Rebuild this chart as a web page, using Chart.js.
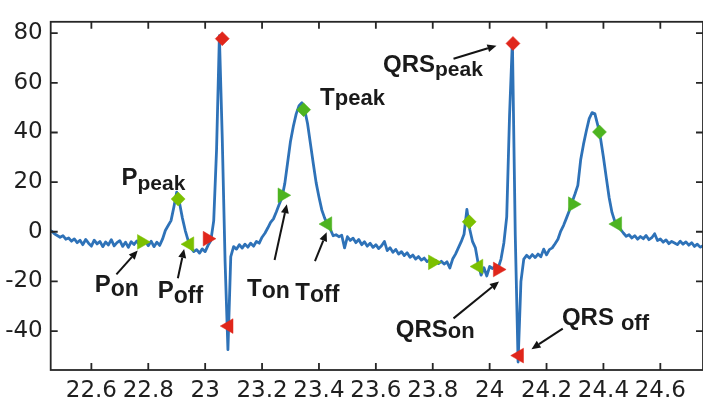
<!DOCTYPE html>
<html>
<head>
<meta charset="utf-8">
<script src="https://cdn.jsdelivr.net/npm/chart.js@4/dist/chart.umd.min.js"></script>
<style>
  html, body { margin: 0; padding: 0; background: #fff; overflow: hidden; width: 703px; height: 405px; }
  #wrap { position: absolute; left: 0; top: 0; width: 712px; height: 405px; }
</style>
</head>
<body>
<div id="wrap"><canvas id="ecg" width="712" height="405"></canvas></div>
<script>
// ECG record: one value per 10 ms, starting at 22.45 s
const SAMPLE_START = 22.45;
const SAMPLE_STEP = 0.01;
const ecgValues = [
  0.6, 0.3, -0.8, -1.5, -2.2, -1.6, -3.0, -2.5, -3.8, -2.9,        // 22.45
  -4.4, -3.4, -5.2, -3.1, -4.6, -5.8, -3.4, -4.9, -3.9, -6.0,      // 22.55
  -4.1, -5.3, -3.2, -5.7, -4.4, -3.6, -5.9, -4.2, -6.3, -4.0,      // 22.65
  -5.1, -3.7, -5.5, -4.3, -3.9, -5.6, -3.8, -6.0, -4.2, -5.5,      // 22.75
  -3.0, 0.5, 2.5, 4.5, 10.0, 16.0, 11.5, 5.5, 0.5, -3.5,           // 22.85
  -6.5, -8.0, -7.2, -8.6, -6.9, -8.0, -5.5, -3.5, 4.4, 33.0,       // 22.95
  79.0, 38.0, -12.0, -47.5, -10.0, -6.0, -7.0, -5.2, -6.6, -5.0,   // 23.05
  -6.2, -4.6, -5.8, -3.9, -4.6, -2.2, -0.6, 1.5, 3.8, 5.2,         // 23.15
  8.0, 11.0, 13.8, 19.5, 28.0, 36.5, 42.5, 47.5, 50.8, 52.0,       // 23.25
  49.0, 43.5, 35.5, 27.5, 19.8, 14.0, 8.8, 5.5, 3.0, 1.0,          // 23.35
  -1.6, -1.2, -2.0, -1.4, -6.5, -2.0, -3.5, -2.6, -4.4, -3.1,      // 23.45
  -5.2, -4.0, -5.8, -4.6, -6.3, -5.2, -6.8, -5.6, -3.9, -7.6,      // 23.55
  -6.4, -8.3, -7.1, -9.0, -8.0, -9.6, -8.5, -10.3, -9.4, -11.0,    // 23.65
  -10.0, -11.4, -10.6, -12.0, -11.2, -12.4, -11.6, -12.8, -11.9, -13.0, // 23.75
  -12.1, -14.6, -11.0, -9.0, -6.5, -4.0, -1.0, 9.0, 1.0, -4.0,     // 23.85
  -6.5, -13.0, -17.5, -14.5, -17.8, -14.0, -14.8, -13.8, -14.6, -11.0, // 23.95
  -4.5, 6.0, 47.0, 77.0, -1.0, -52.5, -20.0, -11.0, -9.5, -10.6,   // 24.05
  -9.2, -10.4, -9.0, -10.1, -7.0, -9.3, -7.2, -6.5, -4.8, -3.0,    // 24.15
  0.3, 2.6, 5.5, 8.5, 12.0, 15.2, 18.7, 29.0, 35.3, 40.7,          // 24.25
  45.6, 48.0, 47.5, 43.0, 37.5, 30.0, 21.8, 13.8, 7.8, 4.2,        // 24.35
  2.0, 1.0, -0.5, -1.8, -1.2, -2.5, -1.6, -3.0, -1.9, -2.8,        // 24.45
  -1.5, -3.2, -2.4, -0.8, -3.5, -2.9, -4.2, -3.3, -4.8, -3.9,      // 24.55
  -4.5, -5.2, -3.8, -5.0, -4.1, -5.4, -4.4, -5.9, -5.0, -6.2,      // 24.65
  -5.6                                                             // 24.75
];

// Fiducial points (time in s, amplitude)
const pPeakTime = [22.905, 23.928],  pPeakValue = [13.2, 4.0];
const pOnTime   = [22.777, 23.800],  pOnValue   = [-4.1, -12.3];
const pOffTime  = [22.945, 23.961],  pOffValue  = [-5.0, -14.0];
const tPeakTime = [23.346, 24.386],  tPeakValue = [49.2, 40.2];
const tOnTime   = [23.271, 24.292],  tOnValue   = [14.7, 11.1];
const tOffTime  = [23.430, 24.449],  tOffValue  = [3.1, 3.1];
const qrsPeakTime = [23.060, 24.082], qrsPeakValue = [77.8, 75.9];
const qrsOnTime   = [23.008, 24.028], qrsOnValue   = [-2.8, -15.2];
const qrsOffTime  = [23.083, 24.104], qrsOffValue  = [-38.0, -49.9];

// Axis ticks
const xTickValues = [22.6, 22.8, 23, 23.2, 23.4, 23.6, 23.8, 24, 24.2, 24.4, 24.6];
const xTickLabels = ['22.6', '22.8', '23', '23.2', '23.4', '23.6', '23.8', '24', '24.2', '24.4', '24.6'];
const yTickValues = [-40, -20, 0, 20, 40, 60, 80];
const yTickLabels = ['-40', '-20', '0', '20', '40', '60', '80'];

// Annotation texts, anchored in data units (left edge / baseline of the main text)
const notes = [
  { main: 'P',   sub: 'peak', t: 22.706, v: 18.75, drop: 5, subSize: 21 },
  { main: 'P',   sub: 'on',   t: 22.612, v: -24.2, drop: 4, subSize: 23 },
  { main: 'P',   sub: 'off',  t: 22.833, v: -26.8, drop: 5, subSize: 23 },
  { main: 'T',   sub: 'peak', t: 23.404, v: 51.1,  drop: 0, subSize: 22 },
  { main: 'T',   sub: 'on',   t: 23.147, v: -25.9, drop: 2, subSize: 23 },
  { main: 'T',   sub: 'off',  t: 23.317, v: -27.5, drop: 2, subSize: 23 },
  { main: 'QRS', sub: 'peak', t: 23.625, v: 64.5,  drop: 4, subSize: 21 },
  { main: 'QRS', sub: 'on',   t: 23.670, v: -42.6, drop: 1, subSize: 22 },
  { main: 'QRS', sub: 'off',  t: 24.254, v: -37.5, drop: 5, subSize: 22, gap: 7 }
];
// Arrows: tail -> head, in data units
const arrows = [
  [22.688, -17.2, 22.763, -7.5],
  [22.904, -18.7, 22.926, -6.9],
  [23.244, -11.4, 23.287, 11.1],
  [23.386, -11.8, 23.427, -0.2],
  [23.873, 69.7, 24.024, 75.0],
  [23.873, -34.9, 24.033, -20.0],
  [24.257, -39.0, 24.147, -47.3]
];

const P_GREEN = '#7bc000';
const T_GREEN = '#4db420';
const QRS_RED = '#e0261b';

const ecgPoints = ecgValues.map((v, i) => ({ x: +(SAMPLE_START + i * SAMPLE_STEP).toFixed(3), y: v }));
const pts = (ts, vs) => ts.map((t, i) => ({ x: t, y: vs[i] }));

function markerSet(ts, vs, color, style, rotation, radius) {
  return {
    type: 'scatter', data: pts(ts, vs), order: 0,
    pointStyle: style, rotation: rotation, pointRadius: radius,
    backgroundColor: color, borderColor: color, borderWidth: 0.5,
    pointHoverRadius: radius
  };
}

const frameAndNotes = {
  id: 'frameAndNotes',
  afterDatasetsDraw(chart) {
    const { ctx, scales: { x, y } } = chart;
    ctx.save();
    // arrows
    ctx.strokeStyle = '#141414';
    ctx.fillStyle = '#141414';
    ctx.lineWidth = 2;
    arrows.forEach(([t0, v0, t1, v1]) => {
      const x0 = x.getPixelForValue(t0), y0 = y.getPixelForValue(v0);
      const x1 = x.getPixelForValue(t1), y1 = y.getPixelForValue(v1);
      const ang = Math.atan2(y1 - y0, x1 - x0);
      const len = 9, hw = 4;
      const bx = x1 - Math.cos(ang) * len, by = y1 - Math.sin(ang) * len;
      ctx.beginPath();
      ctx.moveTo(x0, y0);
      ctx.lineTo(bx, by);
      ctx.stroke();
      ctx.beginPath();
      ctx.moveTo(x1, y1);
      ctx.lineTo(bx - Math.sin(ang) * hw, by + Math.cos(ang) * hw);
      ctx.lineTo(bx + Math.sin(ang) * hw, by - Math.cos(ang) * hw);
      ctx.closePath();
      ctx.fill();
    });
    // labels
    ctx.fillStyle = '#1a1a1a';
    ctx.textAlign = 'left';
    ctx.textBaseline = 'alphabetic';
    notes.forEach(n => {
      const px = x.getPixelForValue(n.t), py = y.getPixelForValue(n.v);
      ctx.font = 'bold 24px "Liberation Sans", Arial, sans-serif';
      ctx.fillText(n.main, px, py);
      const w = ctx.measureText(n.main).width;
      ctx.font = 'bold ' + n.subSize + 'px "Liberation Sans", Arial, sans-serif';
      ctx.fillText(n.sub, px + w + (n.gap || 0), py + n.drop);
    });
    ctx.restore();
  },
  afterDraw(chart) {
    const { ctx, chartArea: a, scales: { x, y } } = chart;
    ctx.save();
    ctx.strokeStyle = '#262626';
    ctx.lineWidth = 1.8;
    ctx.strokeRect(a.left, a.top, a.right - a.left, a.bottom - a.top);
    ctx.beginPath();
    const tl = 7;
    xTickValues.forEach(v => {
      const px = x.getPixelForValue(v);
      ctx.moveTo(px, a.bottom); ctx.lineTo(px, a.bottom - tl);
      ctx.moveTo(px, a.top); ctx.lineTo(px, a.top + tl);
    });
    yTickValues.forEach(v => {
      const py = y.getPixelForValue(v);
      ctx.moveTo(a.left, py); ctx.lineTo(a.left + tl, py);
      ctx.moveTo(a.right, py); ctx.lineTo(a.right - tl, py);
    });
    ctx.stroke();
    ctx.restore();
  }
};

new Chart(document.getElementById('ecg'), {
  type: 'line',
  data: {
    datasets: [
      markerSet(qrsPeakTime, qrsPeakValue, QRS_RED, 'rectRot', 0, 7),
      markerSet(qrsOnTime, qrsOnValue, QRS_RED, 'triangle', 90, 8.5),
      markerSet(qrsOffTime, qrsOffValue, QRS_RED, 'triangle', -90, 8.5),
      markerSet(pPeakTime, pPeakValue, P_GREEN, 'rectRot', 0, 7),
      markerSet(pOnTime, pOnValue, P_GREEN, 'triangle', 90, 8.5),
      markerSet(pOffTime, pOffValue, P_GREEN, 'triangle', -90, 8.5),
      markerSet(tPeakTime, tPeakValue, T_GREEN, 'rectRot', 0, 7),
      markerSet(tOnTime, tOnValue, T_GREEN, 'triangle', 90, 8.5),
      markerSet(tOffTime, tOffValue, T_GREEN, 'triangle', -90, 8.5),
      {
        type: 'line', data: ecgPoints, order: 10,
        borderColor: '#2e72b8', borderWidth: 2.8, pointRadius: 0,
        tension: 0, fill: false, borderJoinStyle: 'round'
      }
    ]
  },
  options: {
    responsive: false,
    devicePixelRatio: 1,
    animation: false,
    events: [],
    layout: { padding: { top: 5.7, right: 5, left: 0, bottom: 0 } },
    plugins: { legend: { display: false }, tooltip: { enabled: false } },
    scales: {
      x: {
        type: 'linear', min: 22.457, max: 24.75,
        grid: { display: false, drawTicks: false },
        border: { display: false },
        afterBuildTicks: s => { s.ticks = xTickValues.map(v => ({ value: v })); },
        afterFit: s => { s.height = 35; },
        ticks: {
          autoSkip: false, maxRotation: 0, padding: 7, color: '#1f1f1f',
          font: { family: '"DejaVu Sans", sans-serif', size: 23 },
          callback: (v) => xTickLabels[xTickValues.indexOf(v)]
        }
      },
      y: {
        type: 'linear', min: -55.7, max: 84.6,
        grid: { display: false, drawTicks: false },
        border: { display: false },
        afterBuildTicks: s => { s.ticks = yTickValues.map(v => ({ value: v })); },
        afterFit: s => { s.width = 50.7; },
        ticks: {
          autoSkip: false, padding: 8, color: '#1f1f1f',
          font: { family: '"DejaVu Sans", sans-serif', size: 23 },
          callback: (v) => yTickLabels[yTickValues.indexOf(v)]
        }
      }
    }
  },
  plugins: [frameAndNotes]
});
</script>
</body>
</html>
